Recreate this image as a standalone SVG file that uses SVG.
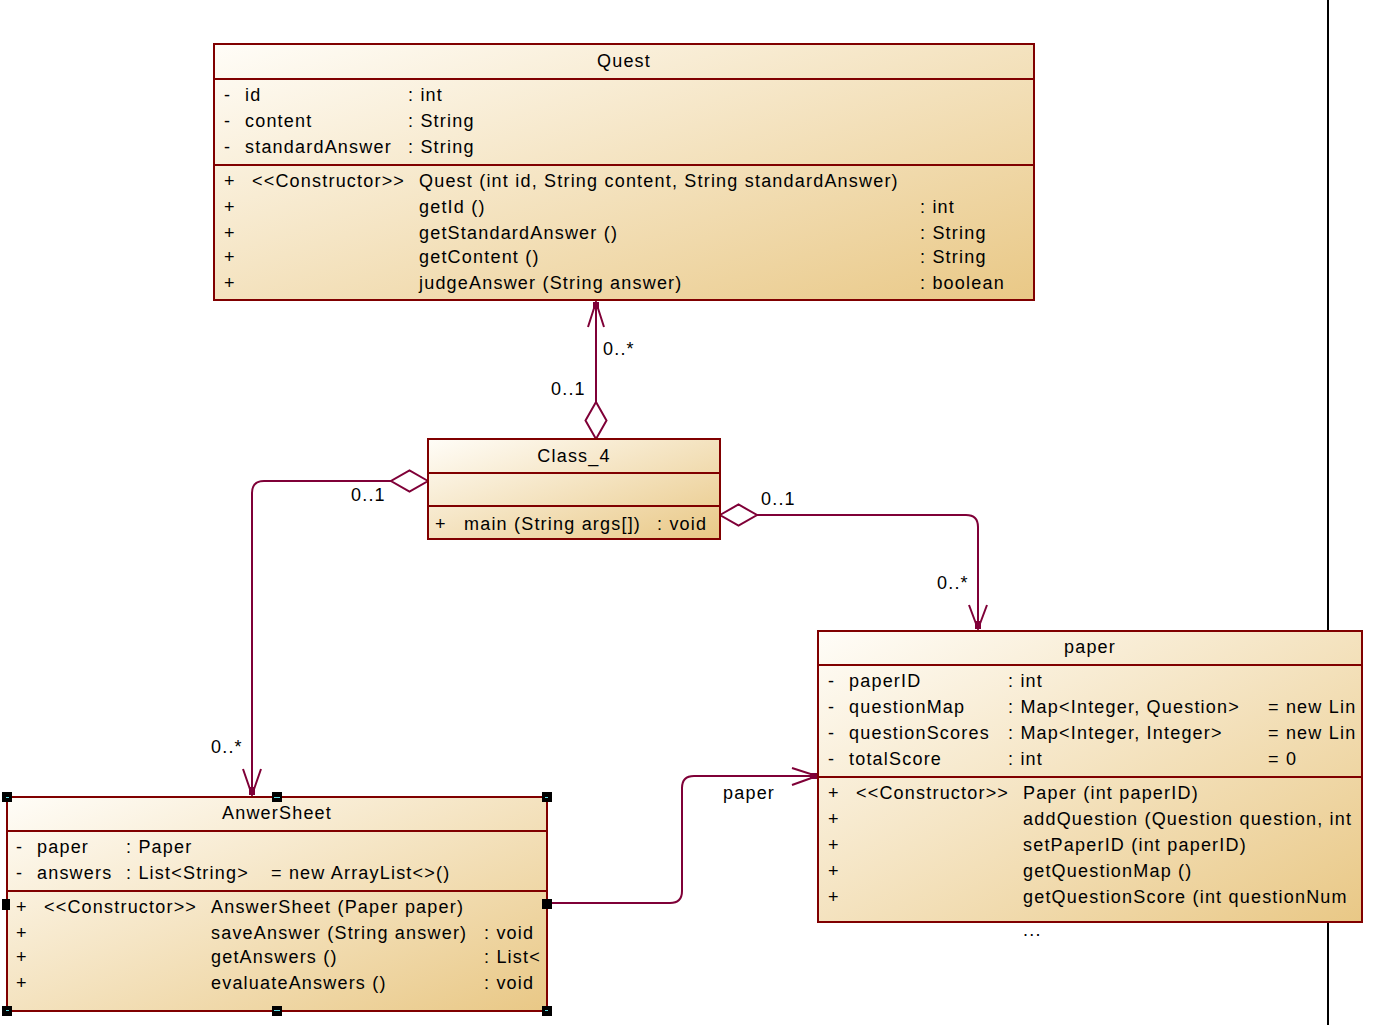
<svg xmlns="http://www.w3.org/2000/svg" width="1376" height="1025" viewBox="0 0 1376 1025">
<defs>
<linearGradient id="g" x1="0" y1="0" x2="1" y2="1">
<stop offset="0" stop-color="#FFFDF8"/>
<stop offset="1" stop-color="#E9C886"/>
</linearGradient>
<clipPath id="clipPaper"><rect x="819" y="632" width="541" height="289"/></clipPath>
<clipPath id="clipSheet"><rect x="8" y="798" width="537" height="212"/></clipPath>
</defs>
<style>
.box { fill: url(#g); stroke: #800000; stroke-width: 2; }
.div { stroke: #800000; stroke-width: 2; }
text { font-family: "Liberation Sans", Arial, sans-serif; font-size: 18px; letter-spacing: 1.2px; fill: #000; }
.c { text-anchor: middle; }
.conn { fill: none; stroke: #7F0037; stroke-width: 2; }
.tip { fill: #7F0037; }
.h { fill: #000; }
.hc { fill: #5FE0E8; }
</style>
<rect width="1376" height="1025" fill="#FFFFFF"/>
<line x1="1328" y1="0" x2="1328" y2="1025" stroke="#000" stroke-width="2"/>

<g id="connectors">
  <!-- Class_4 to Quest -->
  <line class="conn" x1="596" y1="302" x2="596" y2="402"/>
  <polygon class="conn" points="596,402 606.5,420.5 596,439 585.5,420.5"/>
  <polyline class="conn" points="588,327 596,302 604,327"/>
  <rect class="tip" x="593" y="302" width="6" height="7"/>
  <text x="603" y="355">0..*</text>
  <text x="551" y="395">0..1</text>
  <!-- Class_4 to AnwerSheet -->
  <polygon class="conn" points="428,481 409.5,470.5 391,481 409.5,491.5"/>
  <path class="conn" d="M391,481 H264 Q252,481 252,493 V795"/>
  <polyline class="conn" points="243,769 252,795 261,769"/>
  <rect class="tip" x="249" y="787" width="6" height="8"/>
  <text x="351" y="501">0..1</text>
  <text x="211" y="753">0..*</text>
  <!-- Class_4 to paper -->
  <polygon class="conn" points="720,515 738.5,504.5 757,515 738.5,525.5"/>
  <path class="conn" d="M757,515 H966 Q978,515 978,527 V629"/>
  <polyline class="conn" points="969,605 978,629 987,605"/>
  <rect class="tip" x="975" y="621" width="6" height="8"/>
  <text x="761" y="505">0..1</text>
  <text x="937" y="589">0..*</text>
  <!-- AnwerSheet to paper -->
  <path class="conn" d="M547,903 H670 Q682,903 682,891 V788 Q682,776 694,776 H817"/>
  <polyline class="conn" points="792,768 817,776 792,785"/>
  <rect class="tip" x="810" y="773" width="7" height="6"/>
  <text x="723" y="799">paper</text>
</g>

<g id="Quest">
  <rect class="box" x="214" y="44" width="820" height="256"/>
  <line class="div" x1="214" y1="79" x2="1034" y2="79"/>
  <line class="div" x1="214" y1="165" x2="1034" y2="165"/>
  <text class="c" x="624" y="67">Quest</text>
  <text x="224" y="101">-</text><text x="245" y="101">id</text><text x="408" y="101">: int</text>
  <text x="224" y="127">-</text><text x="245" y="127">content</text><text x="408" y="127">: String</text>
  <text x="224" y="153">-</text><text x="245" y="153">standardAnswer</text><text x="408" y="153">: String</text>
  <text x="224" y="187">+</text><text x="252" y="187">&lt;&lt;Constructor&gt;&gt;</text><text x="419" y="187">Quest (int id, String content, String standardAnswer)</text>
  <text x="224" y="213">+</text><text x="419" y="213">getId ()</text><text x="920" y="213">: int</text>
  <text x="224" y="239">+</text><text x="419" y="239">getStandardAnswer ()</text><text x="920" y="239">: String</text>
  <text x="224" y="263">+</text><text x="419" y="263">getContent ()</text><text x="920" y="263">: String</text>
  <text x="224" y="289">+</text><text x="419" y="289">judgeAnswer (String answer)</text><text x="920" y="289">: boolean</text>
</g>

<g id="Class_4">
  <rect class="box" x="428" y="439" width="292" height="100"/>
  <line class="div" x1="428" y1="473" x2="720" y2="473"/>
  <line class="div" x1="428" y1="506" x2="720" y2="506"/>
  <text class="c" x="574" y="462">Class_4</text>
  <text x="435" y="530">+</text><text x="464" y="530">main (String args[])</text><text x="657" y="530">: void</text>
</g>

<g id="paper">
  <rect class="box" x="818" y="631" width="544" height="291"/>
  <line class="div" x1="818" y1="665" x2="1362" y2="665"/>
  <line class="div" x1="818" y1="777" x2="1362" y2="777"/>
  <g clip-path="url(#clipPaper)">
    <text class="c" x="1090" y="653">paper</text>
    <text x="828" y="687">-</text><text x="849" y="687">paperID</text><text x="1008" y="687">: int</text>
    <text x="828" y="713">-</text><text x="849" y="713">questionMap</text><text x="1008" y="713">: Map&lt;Integer, Question&gt;</text><text x="1268" y="713">= new Lin</text>
    <text x="828" y="739">-</text><text x="849" y="739">questionScores</text><text x="1008" y="739">: Map&lt;Integer, Integer&gt;</text><text x="1268" y="739">= new Lin</text>
    <text x="828" y="765">-</text><text x="849" y="765">totalScore</text><text x="1008" y="765">: int</text><text x="1268" y="765">= 0</text>
    <text x="828" y="799">+</text><text x="856" y="799">&lt;&lt;Constructor&gt;&gt;</text><text x="1023" y="799">Paper (int paperID)</text>
    <text x="828" y="825">+</text><text x="1023" y="825">addQuestion (Question question, int</text>
    <text x="828" y="851">+</text><text x="1023" y="851">setPaperID (int paperID)</text>
    <text x="828" y="877">+</text><text x="1023" y="877">getQuestionMap ()</text>
    <text x="828" y="903">+</text><text x="1023" y="903">getQuestionScore (int questionNum</text>
  </g>
  <text x="1023" y="936">...</text>
</g>

<g id="AnwerSheet">
  <rect class="box" x="7" y="797" width="540" height="214"/>
  <line class="div" x1="7" y1="831" x2="547" y2="831"/>
  <line class="div" x1="7" y1="891" x2="547" y2="891"/>
  <g clip-path="url(#clipSheet)">
    <text class="c" x="277" y="819">AnwerSheet</text>
    <text x="16" y="853">-</text><text x="37" y="853">paper</text><text x="126" y="853">: Paper</text>
    <text x="16" y="879">-</text><text x="37" y="879">answers</text><text x="126" y="879">: List&lt;String&gt;</text><text x="271" y="879">= new ArrayList&lt;&gt;()</text>
    <text x="16" y="913">+</text><text x="44" y="913">&lt;&lt;Constructor&gt;&gt;</text><text x="211" y="913">AnswerSheet (Paper paper)</text>
    <text x="16" y="939">+</text><text x="211" y="939">saveAnswer (String answer)</text><text x="484" y="939">: void</text>
    <text x="16" y="963">+</text><text x="211" y="963">getAnswers ()</text><text x="484" y="963">: List&lt;</text>
    <text x="16" y="989">+</text><text x="211" y="989">evaluateAnswers ()</text><text x="484" y="989">: void</text>
  </g>
  <g id="handles">
    <rect class="h" x="2" y="792" width="10" height="10"/>
    <rect class="h" x="272" y="792" width="10" height="10"/>
    <rect class="h" x="542" y="792" width="10" height="10"/>
    <rect class="h" x="2" y="899" width="8" height="11"/>
    <rect class="h" x="542" y="899" width="10" height="10"/>
    <rect class="h" x="2" y="1006" width="10" height="10"/>
    <rect class="h" x="272" y="1006" width="10" height="10"/>
    <rect class="h" x="542" y="1006" width="10" height="10"/>
    <rect class="hc" x="6" y="797" width="3" height="1"/>
    <rect class="hc" x="545" y="797" width="3" height="1"/>
    <rect class="hc" x="274" y="797" width="6" height="1"/>
    <rect class="hc" x="274" y="1010" width="6" height="1"/>
    <rect class="hc" x="6" y="1010" width="3" height="1"/>
    <rect class="hc" x="545" y="1010" width="3" height="1"/>
  </g>
</g>
</svg>
